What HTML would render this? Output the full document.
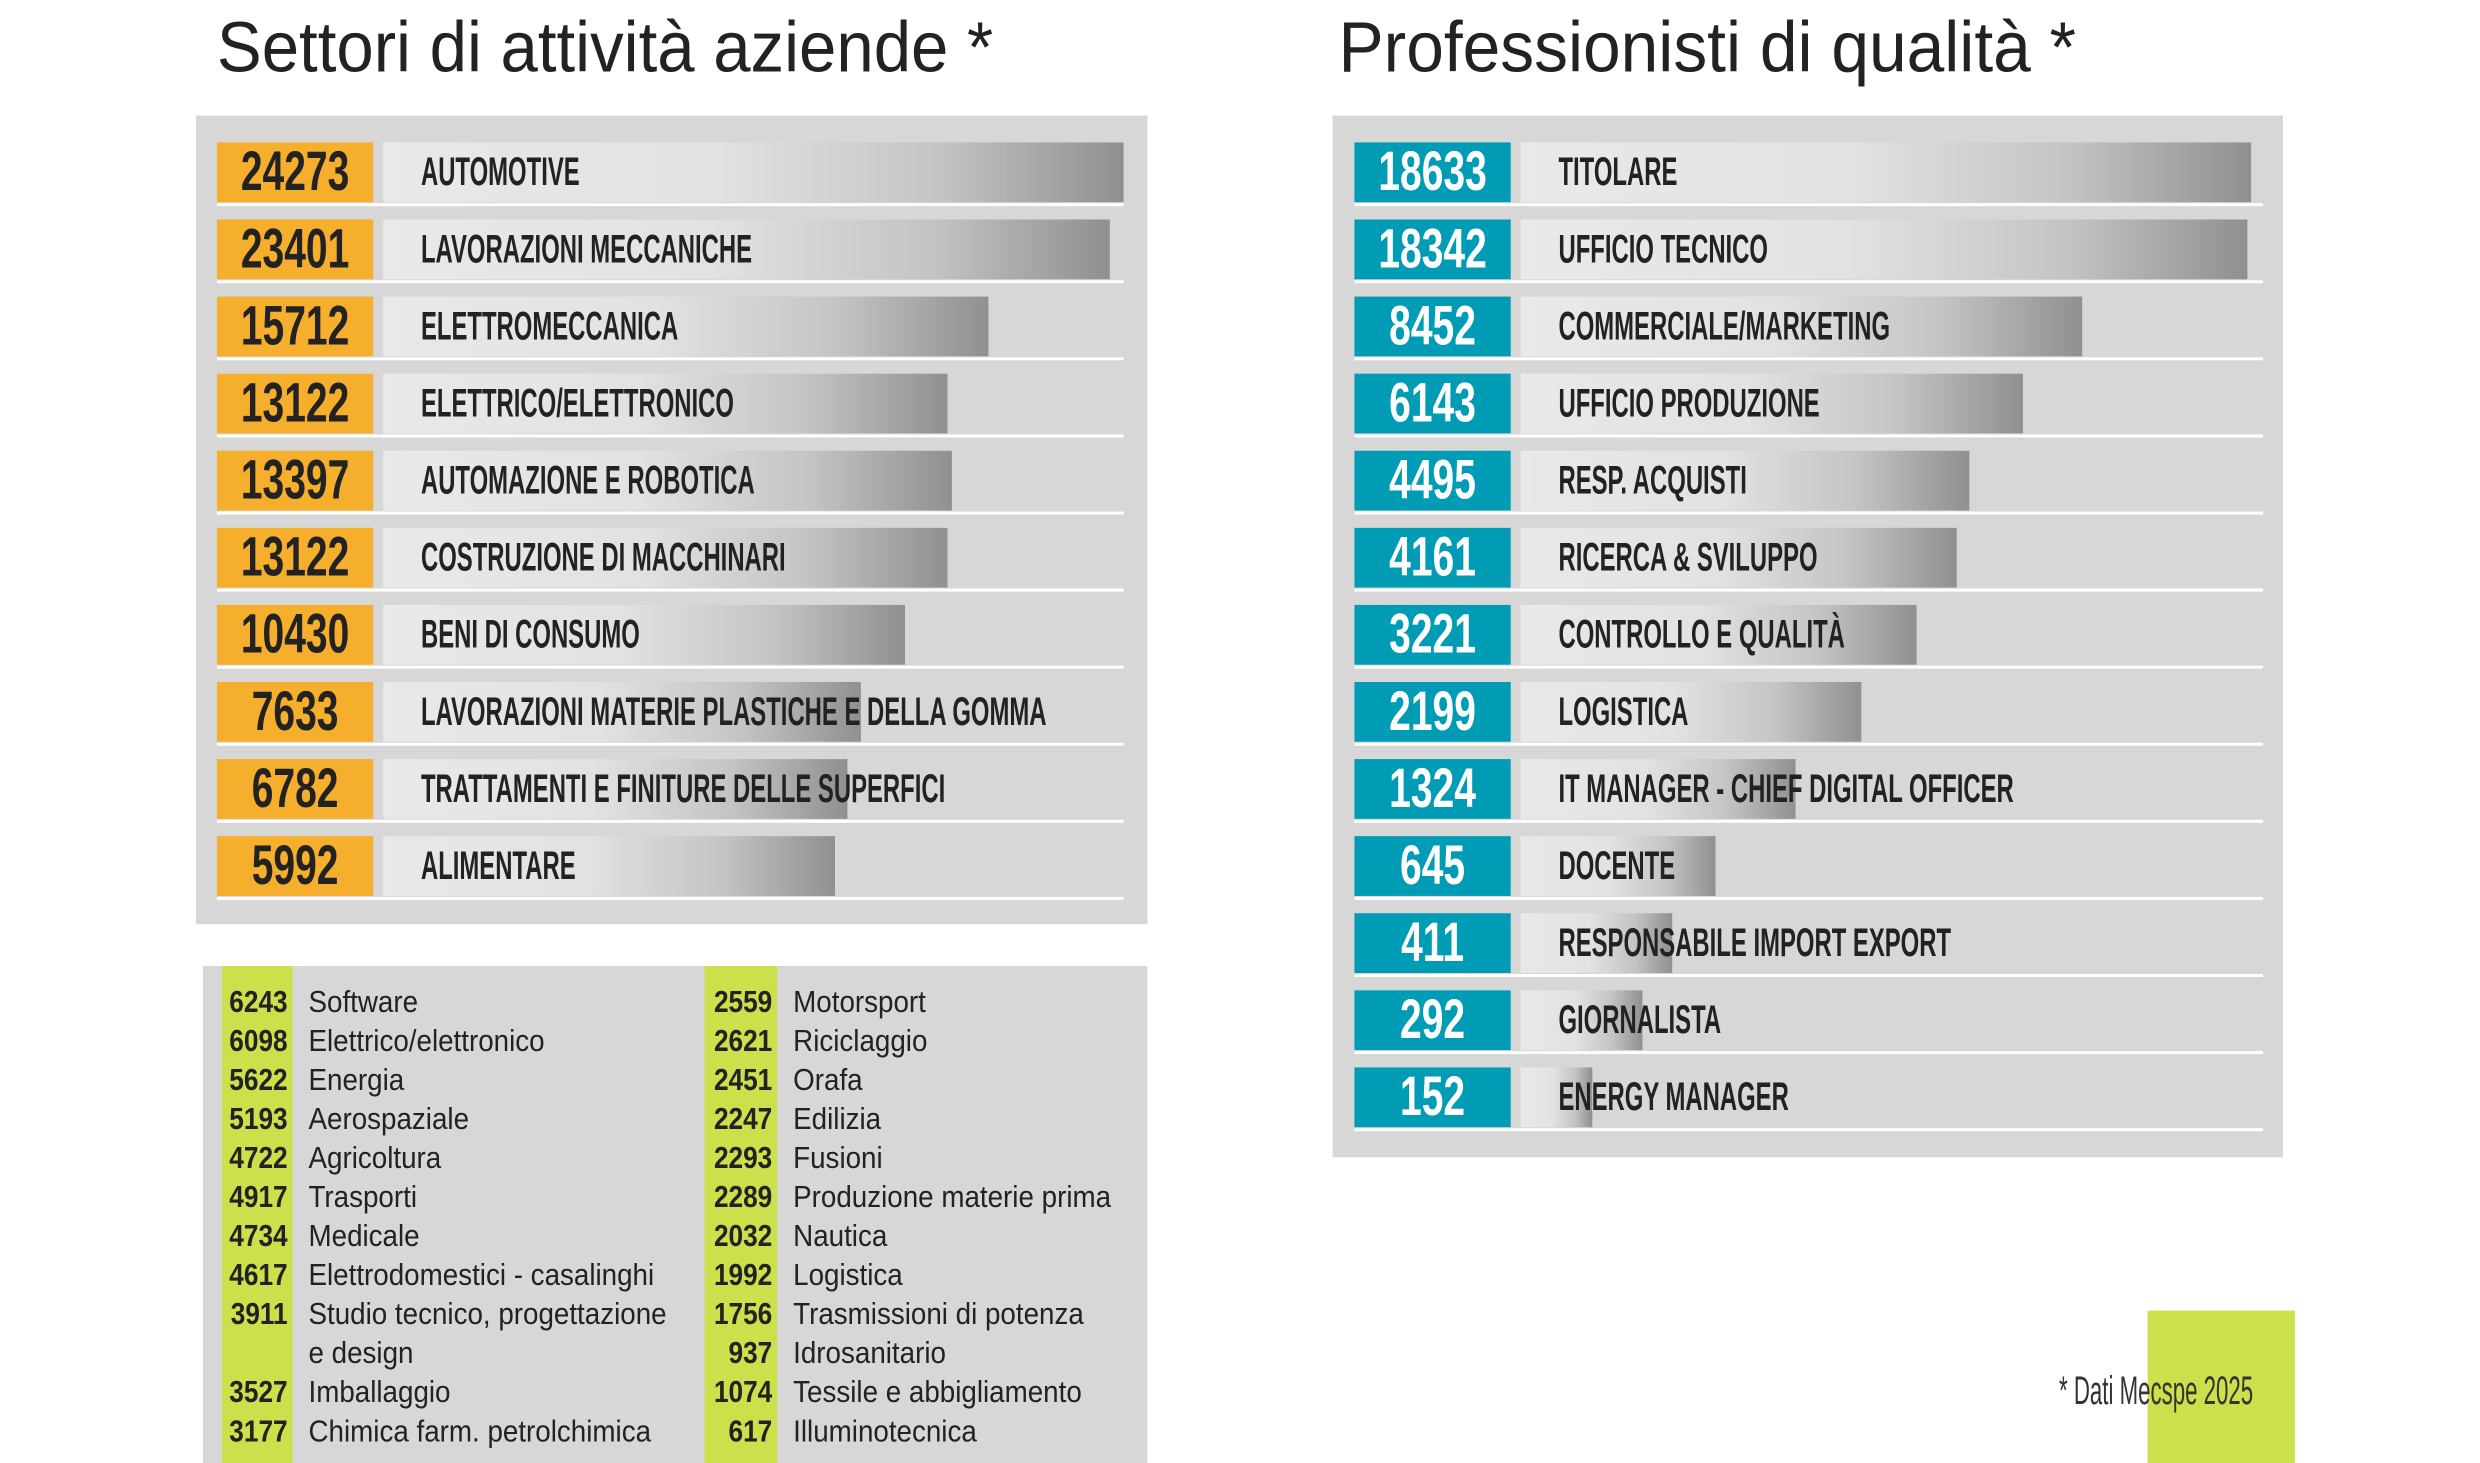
<!DOCTYPE html>
<html><head><meta charset="utf-8"><style>
html,body{margin:0;padding:0;background:#fff;}
svg{display:block;}
</style></head><body>
<svg id="chart" width="2480" height="1463" viewBox="0 0 2492 1469" preserveAspectRatio="none" xmlns="http://www.w3.org/2000/svg">
<defs>
<linearGradient id="barGrad" x1="0" x2="1" y1="0" y2="0">
<stop offset="0" stop-color="#e9e9e9"/><stop offset="0.45" stop-color="#e2e2e2"/><stop offset="0.75" stop-color="#c4c4c5"/><stop offset="1" stop-color="#8f9091"/>
</linearGradient>
</defs>
<text x="218" y="72" font-family="Liberation Sans Narrow, Liberation Sans, sans-serif" font-size="72" fill="#222" textLength="780" lengthAdjust="spacingAndGlyphs">Settori di attività aziende *</text>
<text x="1345" y="72" font-family="Liberation Sans Narrow, Liberation Sans, sans-serif" font-size="72" fill="#222" textLength="741" lengthAdjust="spacingAndGlyphs">Professionisti di qualità *</text>
<rect x="197" y="116" width="956" height="812" fill="#d7d7d7"/>
<rect x="1339" y="116" width="955" height="1046" fill="#d7d7d7"/>
<rect x="204" y="970" width="949" height="499" fill="#d7d7d7"/>
<rect x="223" y="970" width="71" height="499" fill="#cddf4a"/>
<rect x="708" y="970" width="73" height="499" fill="#cddf4a"/>
<rect x="2158" y="1316" width="148" height="153" fill="#cddf4a"/>
<text x="2069" y="1410" textLength="195" lengthAdjust="spacingAndGlyphs" font-family="Liberation Sans Narrow, Liberation Sans, sans-serif" font-size="40" fill="#333">* Dati Mecspe 2025</text>
<g id="leftG"></g><g id="rightG"></g><g id="minorG"></g>
</svg>
<script>
const sectorLabels=["AUTOMOTIVE","LAVORAZIONI MECCANICHE","ELETTROMECCANICA","ELETTRICO/ELETTRONICO","AUTOMAZIONE E ROBOTICA","COSTRUZIONE DI MACCHINARI","BENI DI CONSUMO","LAVORAZIONI MATERIE PLASTICHE E DELLA GOMMA","TRATTAMENTI E FINITURE DELLE SUPERFICI","ALIMENTARE"];
const sectorValues=[24273,23401,15712,13122,13397,13122,10430,7633,6782,5992];
const roleLabels=["TITOLARE","UFFICIO TECNICO","COMMERCIALE/MARKETING","UFFICIO PRODUZIONE","RESP. ACQUISTI","RICERCA & SVILUPPO","CONTROLLO E QUALITÀ","LOGISTICA","IT MANAGER - CHIEF DIGITAL OFFICER","DOCENTE","RESPONSABILE IMPORT EXPORT","GIORNALISTA","ENERGY MANAGER"];
const roleValues=[18633,18342,8452,6143,4495,4161,3221,2199,1324,645,411,292,152];
const minor1Labels=["Software","Elettrico/elettronico","Energia","Aerospaziale","Agricoltura","Trasporti","Medicale","Elettrodomestici - casalinghi","Studio tecnico, progettazione|e design","Imballaggio","Chimica farm. petrolchimica"];
const minor1Values=[6243,6098,5622,5193,4722,4917,4734,4617,3911,3527,3177];
const minor2Labels=["Motorsport","Riciclaggio","Orafa","Edilizia","Fusioni","Produzione materie prima","Nautica","Logistica","Trasmissioni di potenza","Idrosanitario","Tessile e abbigliamento","Illuminotecnica"];
const minor2Values=[2559,2621,2451,2247,2293,2289,2032,1992,1756,937,1074,617];

const NS="http://www.w3.org/2000/svg";
function mk(tag,attrs,parent){const e=document.createElementNS(NS,tag);for(const k in attrs)e.setAttribute(k,attrs[k]);parent.appendChild(e);return e;}
const FONT="Liberation Sans Narrow, Liberation Sans, sans-serif";
const NSX=0.70, LSX=0.60;

function drawPanel(g,labels,values,boxX,barX,lineEnd,boxColor,numColor,xScale,prefix){
  labels.forEach((lab,i)=>{
    const y=143+i*77.4;
    const line=mk('rect',{x:boxX,y:y+61,width:lineEnd-boxX,height:3,fill:'#ffffff'},g);
    
    
    const bar=mk('rect',{x:barX,y:y,width:Math.max(0,xScale(values[i])-barX),height:60,fill:'url(#barGrad)'},g);
    
    
    const box=mk('rect',{x:boxX,y:y,width:157,height:60,fill:boxColor},g);
    
    
    const num=mk('text',{x:(boxX+78.5)/NSX,y:y+48,'text-anchor':'middle','font-family':FONT,'font-size':56,'font-weight':'bold',fill:numColor,transform:'scale('+NSX+',1)'},g);
    num.textContent=values[i];
    
    
    const t=mk('text',{x:(barX+38)/LSX,y:y+43,'font-family':FONT,'font-size':40,'font-weight':'bold',fill:'#222',transform:'scale('+LSX+',1)'},g);
    t.textContent=lab;
    
    
  });
}
const lMin=Math.min(...sectorValues),lMax=Math.max(...sectorValues);
const xLeft=v=>839+(v-lMin)*(290/(lMax-lMin));
drawPanel(document.getElementById('leftG'),sectorLabels,sectorValues,218,385,1129,'#f6ae2d','#222',xLeft,'sector');
const rMin=Math.min(...roleValues),rMax=Math.max(...roleValues);
const p=0.25;
const xRight=v=>1600+(Math.pow(v,p)-Math.pow(rMin,p))*((2262-1600)/(Math.pow(rMax,p)-Math.pow(rMin,p)));
drawPanel(document.getElementById('rightG'),roleLabels,roleValues,1361,1528,2274,'#009bb5','#fff',xRight,'role');

function drawMinor(g,labels,values,numEnd,labX,prefix){
  let row=0;
  labels.forEach((lab,i)=>{
    const y=1016+row*39.2;
    const n=mk('text',{x:numEnd/0.85,y:y,'text-anchor':'end','font-family':FONT,'font-size':31,'font-weight':'bold',fill:'#222',transform:'scale(0.85,1)'},g);
    n.textContent=values[i];
    
    
    lab.split('|').forEach((part,j)=>{
      const t=mk('text',{x:labX/0.9,y:y+j*39.2,'font-family':FONT,'font-size':31,fill:'#222',transform:'scale(0.9,1)'},g);
      t.textContent=part;
      
      
    });
    row+=lab.split('|').length;
  });
}
drawMinor(document.getElementById('minorG'),minor1Labels,minor1Values,289,310,'minor1');
drawMinor(document.getElementById('minorG'),minor2Labels,minor2Values,776,797,'minor2');
</script>
</body></html>
